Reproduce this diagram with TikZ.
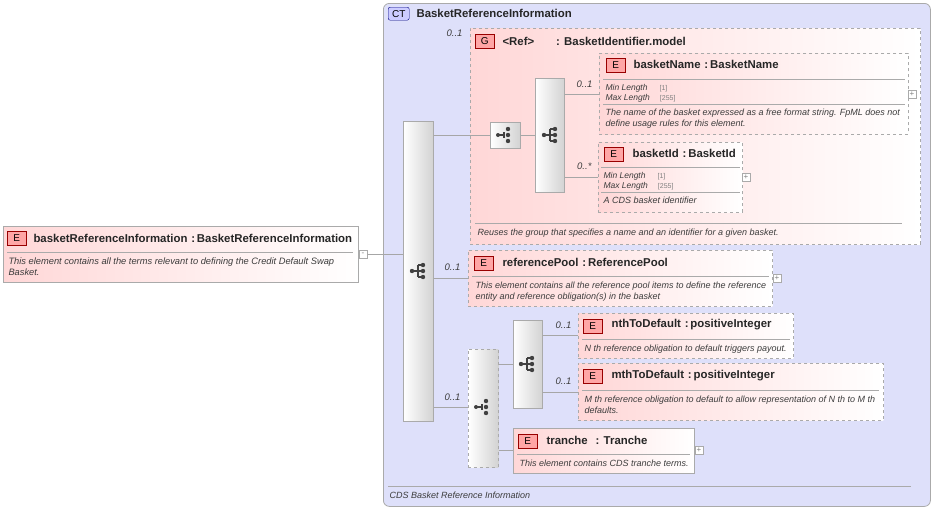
\documentclass[tikz,border=0pt]{standalone}
\usepackage{fontspec}
\setmainfont{Liberation Sans}
\usetikzlibrary{positioning}
\definecolor{ctfill}{RGB}{222,224,250}
\definecolor{pinkE}{RGB}{255,215,215}
\definecolor{bord}{RGB}{170,170,170}
\definecolor{txtg}{RGB}{60,60,60}
\begin{document}
\begin{tikzpicture}[x=1pt,y=-1pt,
  box/.style={draw=bord,line width=0.8pt,anchor=north west,inner sep=0pt,left color=pinkE,right color=white,shading angle=90},
  dbox/.style={box,dashed},
  bar/.style={draw=bord,line width=0.8pt,anchor=north west,inner sep=0pt,left color=white,right color=gray!35},
  badge/.style={draw=red!60!black,fill=red!35,anchor=north west,inner sep=0pt,minimum width=19pt,minimum height=14pt,font=\fontsize{10}{10}\selectfont},
  ttl/.style={anchor=west,font=\bfseries\fontsize{11.4}{12}\selectfont,text=black!85},
  dsc/.style={anchor=north west,font=\itshape\fontsize{9}{11}\selectfont,text=txtg,align=left},
  mult/.style={anchor=east,font=\itshape\fontsize{9.5}{10}\selectfont,text=txtg},
  conn/.style={draw=gray!70,line width=0.8pt},
  plus/.style={draw=bord,fill=white,inner sep=0pt,minimum size=8pt,font=\fontsize{8}{8}\selectfont,text=gray}]
\useasboundingbox (0,0) rectangle (934,509);
% CT
\node[draw=bord,line width=0.8pt,fill=ctfill,rounded corners=6pt,anchor=north west,minimum width=547pt,minimum height=503pt,inner sep=0pt] (ct) at (383,3) {};
\node[draw=blue!50!black,fill=blue!20,rounded corners=2pt,anchor=north west,minimum width=21pt,minimum height=13pt,inner sep=0pt,font=\fontsize{10}{10}\selectfont] (ctb) at (388,7) {CT};
\node[ttl] (ctt) at (413,13.5) {BasketReferenceInformation};
\draw[bord] (388,486) -- (911,486);
\node[dsc] (ctd) at (386,488) {CDS Basket Reference Information};
% left element
\node[box] (root) at (3,226) [minimum width=355pt,minimum height=56pt] {};
\node[badge] (rootb) at (7,231) {E};
\node[ttl] at (30,238) {basketReferenceInformation\,\,:\,BasketReferenceInformation};
\draw[bord] (7,252) -- (353,252);
\node[dsc,font=\itshape\fontsize{9.3}{11}\selectfont] at (5,254) {This element contains all the terms relevant to defining the Credit Default Swap\\Basket.};
\node[plus] (rootm) at (363,254) {-};
% main sequence bar
\node[bar,minimum width=30pt,minimum height=300pt] (seq) at (403,121) {};
\draw[conn] (rootm.east) -- (seq.west|-rootm);
% group
\node[dbox,minimum width=450pt,minimum height=216pt] (grp) at (470,28) {};
\node[mult] at (466,33) {0..1};
\node[badge] (gb) at (475,34) {G};
\node[ttl] at (499,41) {<Ref>\hspace{22pt}: BasketIdentifier.model};
\draw[bord] (475,223) -- (902,223);
\node[dsc] at (474,225) {Reuses the group that specifies a name and an identifier for a given basket.};
\node[bar,minimum width=30pt,minimum height=26pt] (ch1) at (490,122) {};
\draw[conn] (seq.east|-ch1) -- (ch1.west);
\node[bar,minimum width=29pt,minimum height=114pt] (sq2) at (535,78) {};
\draw[conn] (ch1.east) -- (sq2.west|-ch1);
% basketName
\node[dbox,minimum width=309pt,minimum height=81pt] (bn) at (599,53) {};
\node[badge] at (606,58) {E};
\node[ttl] at (630,64) {basketName\,\,:\,BasketName};
\draw[bord] (603,79) -- (905,79);
\node[dsc,font=\itshape\fontsize{8.5}{10}\selectfont] at (602,81) {Min Length\hspace{12pt}{\upshape\color{gray}\fontsize{7}{8}\selectfont[1]}\\Max Length\hspace{10pt}{\upshape\color{gray}\fontsize{7}{8}\selectfont[255]}};
\draw[bord] (603,104) -- (905,104);
\node[dsc] at (602,105) {The name of the basket expressed as a free format string. FpML does not\\define usage rules for this element.};
\node[plus] at (912,94) {+};
\node[mult] at (596,84) {0..1};
\draw[conn] (sq2.east|-0,94) -- (bn.west|-0,94);
% basketId
\node[dbox,minimum width=144pt,minimum height=70pt] (bi) at (598,142) {};
\node[badge] at (604,147) {E};
\node[ttl] at (629,153) {basketId\,\,:\,BasketId};
\draw[bord] (601,167) -- (740,167);
\node[dsc,font=\itshape\fontsize{8.5}{10}\selectfont] at (600,169) {Min Length\hspace{12pt}{\upshape\color{gray}\fontsize{7}{8}\selectfont[1]}\\Max Length\hspace{10pt}{\upshape\color{gray}\fontsize{7}{8}\selectfont[255]}};
\draw[bord] (601,192) -- (740,192);
\node[dsc] at (600,193) {A CDS basket identifier};
\node[plus] at (746,177) {+};
\node[mult] at (595,166) {0..*};
\draw[conn] (sq2.east|-0,177) -- (bi.west|-0,177);
% referencePool
\node[dbox,minimum width=304pt,minimum height=56pt] (rp) at (468,250) {};
\node[badge] at (474,256) {E};
\node[ttl] at (499,262) {referencePool\,\,:\,ReferencePool};
\draw[bord] (472,276) -- (769,276);
\node[dsc] at (472,278) {This element contains all the reference pool items to define the reference\\entity and reference obligation(s) in the basket};
\node[plus] at (777,278) {+};
\node[mult] at (464,267) {0..1};
\draw[conn] (seq.east|-0,278) -- (rp.west|-0,278);
% choice dashed
\node[bar,dashed,minimum width=30pt,minimum height=118pt] (ch2) at (468,349) {};
\node[mult] at (464,397) {0..1};
\draw[conn] (seq.east|-0,407) -- (ch2.west|-0,407);
\node[bar,minimum width=29pt,minimum height=88pt] (sq3) at (513,320) {};
\draw[conn] (ch2.east|-0,364) -- (sq3.west|-0,364);
% nth
\node[dbox,minimum width=215pt,minimum height=45pt] (nth) at (578,313) {};
\node[badge] at (583,319) {E};
\node[ttl] at (608,325) {nthToDefault\,\,:\,positiveInteger};
\draw[bord] (582,339) -- (790,339);
\node[dsc] at (581,341) {N th reference obligation to default triggers payout.};
\node[mult] at (575,325) {0..1};
\draw[conn] (sq3.east|-0,335) -- (nth.west|-0,335);
% mth
\node[dbox,minimum width=305pt,minimum height=57pt] (mth) at (578,363) {};
\node[badge] at (583,369) {E};
\node[ttl] at (608,376) {mthToDefault\,\,:\,positiveInteger};
\draw[bord] (582,390) -- (879,390);
\node[dsc] at (581,392) {M th reference obligation to default to allow representation of N th to M th\\defaults.};
\node[mult] at (575,381) {0..1};
\draw[conn] (sq3.east|-0,392) -- (mth.west|-0,392);
% tranche
\node[box,minimum width=181pt,minimum height=45pt] (tr) at (513,428) {};
\node[badge] at (518,434) {E};
\node[ttl] at (543,440) {tranche\hspace{8pt}: Tranche};
\draw[bord] (517,454) -- (690,454);
\node[dsc] at (516,456) {This element contains CDS tranche terms.};
\node[plus] at (699,450) {+};
\draw[conn] (ch2.east|-0,450) -- (tr.west|-0,450);
% icons
\foreach \cx/\cy in {418/271, 550/135, 527/364} {
  \fill[black!75] (\cx-6,\cy) circle (2.2pt);
  \draw[black!75,line width=1.1pt] (\cx-6,\cy) -- (\cx,\cy) (\cx,\cy-6) -- (\cx,\cy+6) (\cx,\cy-6)--(\cx+5,\cy-6) (\cx,\cy)--(\cx+5,\cy) (\cx,\cy+6)--(\cx+5,\cy+6);
  \foreach \dy in {-6,0,6} \fill[black!75] (\cx+5,\cy+\dy) circle (2.2pt);
}
\foreach \cx/\cy in {505/135, 483/407} {
  \fill[black!75] (\cx-7,\cy) circle (2pt);
  \draw[black!75,line width=1.1pt] (\cx-7,\cy) -- (\cx-1,\cy) (\cx-1,\cy-3)--(\cx-1,\cy+3);
  \foreach \dy in {-6,0,6} \fill[black!75] (\cx+3,\cy+\dy) circle (2.2pt);
}
\end{tikzpicture}
\end{document}
